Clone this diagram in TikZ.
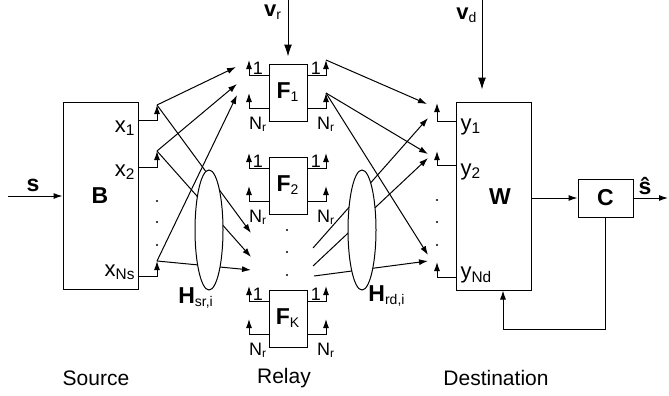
\documentclass[tikz,border=0pt]{standalone}
\usepackage{fontspec}
\setmainfont{Liberation Sans}
\usetikzlibrary{arrows.meta,calc,positioning,shapes.geometric}
\tikzset{%
  >={Latex[width=3pt,length=4.5pt]},
  % Specifications for style of nodes:
  blockbox/.style = {rectangle, draw=black, inner sep=0pt},
  relaybox/.style = {blockbox, minimum width=19pt, minimum height=28.5pt},
  channel/.style = {ellipse, draw=black, fill=white, inner sep=0pt,
    minimum width=14pt, minimum height=60pt},
  boxlabel/.style = {inner sep=0pt, font=\fontsize{11.5}{13}\selectfont\bfseries},
  relaylabel/.style = {inner sep=0pt, font=\fontsize{10}{12}\selectfont},
  portlabel/.style = {inner sep=0pt, font=\fontsize{11}{12}\selectfont},
  smalllabel/.style = {inner sep=0pt, font=\fontsize{9}{10}\selectfont},
  sidelabel/.style = {inner sep=0pt, font=\fontsize{10.5}{12}\selectfont},
  link/.style = {->},
  biglink/.style = {-{Latex[width=4pt,length=6pt]}},
}

\begin{document}
\begin{tikzpicture}[x=0.5pt, y=-0.5pt, line width=0.5pt]
    \useasboundingbox (0,0) rectangle (669,396);
    % Source
    \node(B)[blockbox, minimum width=37.5pt, minimum height=93.5pt] at (100.5,195.5) {};
    \node[boxlabel] at (100,196) {B};
    \coordinate (sin) at (8,196);
    \draw[link] (sin) -- (sin -| B.west);
    \node[boxlabel] at (33,185) {s};
    \coordinate (x1) at (157,105);
    \coordinate (x2) at (157,151);
    \coordinate (xNs) at (157,261);
    \draw[link] ($(B.north east)+(0,19)$) -| (x1);
    \draw[link] ($(B.north east)+(0,66)$) -| (x2);
    \draw[link] ($(B.north east)+(0,175)$) -| (xNs);
    \node[portlabel, anchor=east] at (136,128) {x\textsubscript{1}};
    \node[portlabel, anchor=east] at (136,172) {x\textsubscript{2}};
    \node[portlabel, anchor=east] at (136,272) {x\textsubscript{Ns}};
    \foreach \d in {201,222,245} \fill (157,\d) circle[radius=0.6pt];

    % Relays
    \foreach \r/\t in {1/64, 2/157, K/290}{
      \node(F\r)[relaybox] at (288,\t+28.5) {};
      \node[relaylabel] at (F\r) {{\bfseries\fontsize{11.5}{13}\selectfont F}\textsubscript{\r}};
      \coordinate (F\r-i1) at (249,\t-4);
      \coordinate (F\r-iN) at (249,\t+29);
      \coordinate (F\r-o1) at (326,\t-4);
      \coordinate (F\r-oN) at (326,\t+29);
      \draw[link] ($(F\r.north west)+(0,12)$) -| (F\r-i1);
      \draw[link] ($(F\r.north west)+(0,45)$) -| (F\r-iN);
      \draw[link] ($(F\r.north east)+(0,12)$) -| (F\r-o1);
      \draw[link] ($(F\r.north east)+(0,45)$) -| (F\r-oN);
      \node[smalllabel] at (258,\t+4) {1};
      \node[smalllabel] at (316,\t+4) {1};
      \node[smalllabel] at (258,\t+60) {N\textsubscript{r}};
      \node[smalllabel] at (326,\t+60) {N\textsubscript{r}};
    }
    \foreach \d in {230,252,275} \fill (287,\d) circle[radius=0.6pt];
    \coordinate (vr) at (288,0);
    \draw[biglink] (vr) -- ($(F1.north)+(0,-7)$);
    \node[relaylabel] at (273,12) {{\bfseries\fontsize{11}{13}\selectfont v}\textsubscript{r}};

    % Source to relay channel
    \coordinate (r1a) at (236,67);
    \coordinate (r1b) at (237,84);
    \coordinate (r1c) at (237,95);
    \coordinate (rKa) at (251,233);
    \coordinate (rKb) at (251,257);
    \coordinate (rKc) at (251,270);
    \draw[link] (x1) -- (r1a);
    \draw[link] (x1) -- (rKa);
    \draw[link] (x2) -- (r1b);
    \draw[link] (x2) -- (rKb);
    \draw[link] (xNs) -- (r1c);
    \draw[link] (xNs) -- (rKc);
    \node(Hsr)[channel] at (209,230) {};
    \node[relaylabel] at (196,298) {{\bfseries\fontsize{11.5}{13}\selectfont H}\textsubscript{sr,i}};

    % Destination
    \node(W)[blockbox, minimum width=37.5pt, minimum height=94pt] at (493.5,196) {};
    \node[boxlabel] at (500,197) {W};
    \coordinate (y1) at (437,103);
    \coordinate (y2) at (437,151);
    \coordinate (yNd) at (437,262);
    \draw[link] ($(W.north west)+(0,20)$) -| (y1);
    \draw[link] ($(W.north west)+(0,64)$) -| (y2);
    \draw[link] ($(W.north west)+(0,176)$) -| (yNd);
    \node[portlabel, anchor=west] at (460,127) {y\textsubscript{1}};
    \node[portlabel, anchor=west] at (460,172) {y\textsubscript{2}};
    \node[portlabel, anchor=west] at (460,275) {y\textsubscript{Nd}};
    \foreach \d in {200,222,245} \fill (437,\d) circle[radius=0.6pt];
    \coordinate (vd) at (482,0);
    \draw[biglink] (vd) -- ($(vd |- W.north)+(0,-12)$);
    \node[relaylabel] at (467,15) {{\bfseries\fontsize{11}{13}\selectfont v}\textsubscript{d}};

    % Relay to destination channel
    \coordinate (d1a) at (427,104);
    \coordinate (d2a) at (428,154);
    \coordinate (dNa) at (428,255);
    \coordinate (d1b) at (428,118);
    \coordinate (d2b) at (428,158);
    \coordinate (dNb) at (428,261);
    \coordinate (l1) at (313,248);
    \coordinate (l2) at (313,266);
    \coordinate (l3) at (314,276);
    \draw[link] (F1-o1) -- (d1a);
    \draw[link] (F1-oN) -- (d2a);
    \draw[link] (F1-oN) -- (dNa);
    \draw[link] (l1) -- (d1b);
    \draw[link] (l2) -- (d2b);
    \draw[link] (l3) -- (dNb);
    \node(Hrd)[channel] at (362,230) {};
    \node[relaylabel] at (387,296) {{\bfseries\fontsize{11.5}{13}\selectfont H}\textsubscript{rd,i}};

    % Detector and feedback
    \node(C)[blockbox, minimum width=27.5pt, minimum height=19pt] at (605.5,198) {};
    \node[boxlabel] at (C) {C};
    \draw[link] (W.east |- C.west) -- (C.west);
    \coordinate (shat) at (668,198);
    \draw[link] (C.east) -- (shat);
    \node[boxlabel] at (645,186) {ŝ};
    \coordinate (fb) at (503,329);
    \draw[link] (C.south) |- (fb) -- (fb |- W.south);

    % Captions
    \node[sidelabel] at (96,378) {Source};
    \node[sidelabel] at (284,378) {Relay};
    \node[sidelabel] at (496,378) {Destination};
\end{tikzpicture}
\end{document}
